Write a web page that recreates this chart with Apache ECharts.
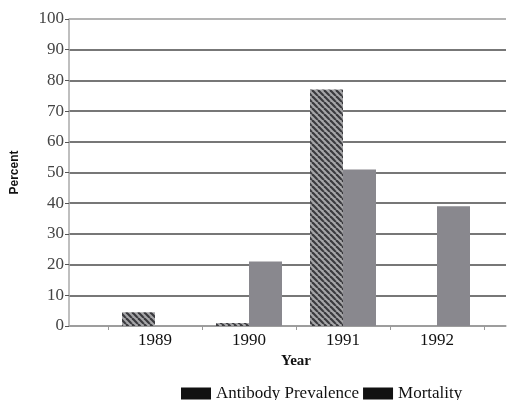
<!DOCTYPE html>
<html>
<head>
<meta charset="utf-8">
<script src="https://cdn.jsdelivr.net/npm/echarts@6/dist/echarts.min.js"></script>
<style>
  html, body { margin: 0; padding: 0; background: #fff; }
  #chart { width: 507px; height: 400px; }
</style>
</head>
<body>
<div id="chart"></div>
<script>
// data
var years = ['1989', '1990', '1991', '1992'];
var antibody = [4.5, 1, 77, 0];
var mortality = [0, 21, 51, 39];
var yTicks = [0, 100, 10]; // min, max, step

// diagonal hatch for the antibody bars
function hatch() {
  var s = 6;
  var c = document.createElement('canvas');
  c.width = s; c.height = s;
  var g = c.getContext('2d');
  g.fillStyle = '#a6a6a9';
  g.fillRect(0, 0, s, s);
  g.strokeStyle = '#3a3a3e';
  g.lineWidth = 2.2;
  for (var k = -1; k <= 1; k++) {
    g.beginPath();
    g.moveTo(k * s, 0);
    g.lineTo(k * s + s, s);
    g.stroke();
  }
  return c;
}

// gridline colours: top line lighter
var splitColors = [];
for (var i = 0; i <= 10; i++) {
  splitColors.push(i === 10 ? '#9a9a9a' : '#4a4a4a');
}

var myChart = echarts.init(document.getElementById('chart'));
myChart.setOption({
  animation: false,
  grid: [
    { left: 69, right: 1, top: 19, bottom: 74 },
    { left: 108, right: 23, top: 19, bottom: 74 }
  ],
  legend: {
    left: 176,
    top: 380,
    icon: 'rect',
    itemWidth: 30,
    itemHeight: 12,
    itemGap: 4,
    textStyle: { fontFamily: 'Liberation Serif', fontSize: 17, color: '#111' },
    data: [
      { name: 'Antibody Prevalence', itemStyle: { color: '#111' } },
      { name: 'Mortality', itemStyle: { color: '#111' } }
    ]
  },
  xAxis: [
    {
      gridIndex: 0,
      type: 'value',
      min: 0,
      max: 1,
      axisLine: { show: true, lineStyle: { color: '#aaa', width: 1.5 } },
      axisTick: { show: false },
      axisLabel: { show: false },
      splitLine: { show: false }
    },
    {
      gridIndex: 1,
      type: 'category',
      data: years,
      axisLine: { show: false },
      axisTick: { show: true, length: 4, lineStyle: { color: '#999' } },
      axisLabel: {
        margin: 6,
        fontFamily: 'Liberation Serif',
        fontSize: 17,
        color: '#111'
      },
      name: 'Year',
      nameLocation: 'middle',
      nameGap: 27,
      nameTextStyle: {
        fontFamily: 'Liberation Serif',
        fontSize: 15,
        fontWeight: 'bold',
        color: '#111'
      }
    }
  ],
  yAxis: [
    {
      gridIndex: 0,
      type: 'value',
      min: yTicks[0],
      max: yTicks[1],
      interval: yTicks[2],
      axisLine: { show: true, lineStyle: { color: '#aaa', width: 1.5 } },
      axisTick: { show: true, length: 4, lineStyle: { color: '#555' } },
      axisLabel: {
        margin: 5,
        fontFamily: 'Liberation Serif',
        fontSize: 17,
        color: '#444'
      },
      splitLine: { show: true, lineStyle: { color: splitColors, width: 1.5 } },
      name: 'Percent',
      nameLocation: 'middle',
      nameRotate: 90,
      nameGap: 48,
      nameTextStyle: {
        fontFamily: 'Liberation Sans',
        fontSize: 12,
        fontWeight: 'bold',
        color: '#111'
      }
    },
    {
      gridIndex: 1,
      type: 'value',
      min: yTicks[0],
      max: yTicks[1],
      show: false
    }
  ],
  series: [
    {
      name: 'Antibody Prevalence',
      type: 'bar',
      xAxisIndex: 1,
      yAxisIndex: 1,
      barWidth: 33,
      barGap: '0%',
      itemStyle: { color: { image: hatch(), repeat: 'repeat' } },
      data: antibody
    },
    {
      name: 'Mortality',
      type: 'bar',
      xAxisIndex: 1,
      yAxisIndex: 1,
      barWidth: 33,
      barGap: '0%',
      itemStyle: { color: '#89888e' },
      data: mortality
    }
  ]
});
</script>
</body>
</html>
